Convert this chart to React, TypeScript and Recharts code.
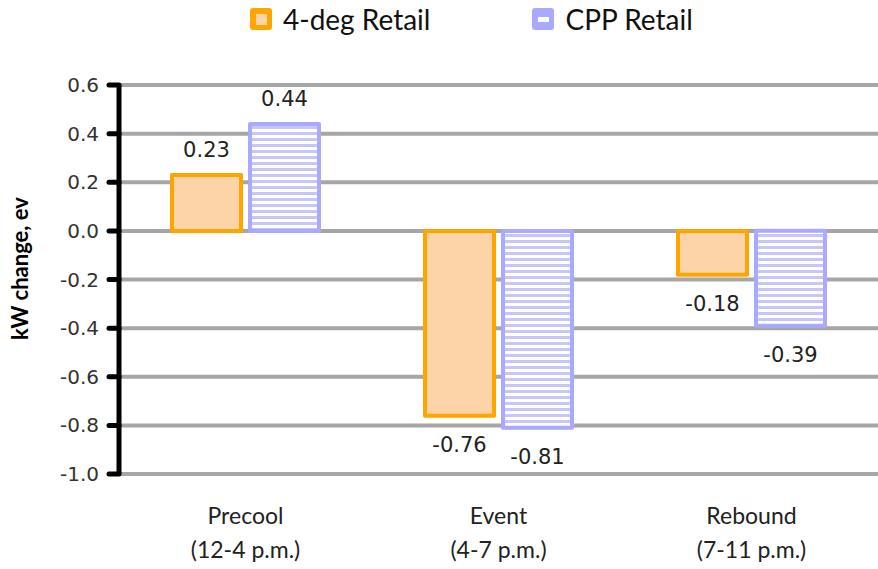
import React from 'react';
import { BarChart, Bar, XAxis, YAxis, CartesianGrid, Legend, LabelList } from 'recharts';

const periods = ['Precool', 'Event', 'Rebound'];
const periodHours = ['(12-4 p.m.)', '(4-7 p.m.)', '(7-11 p.m.)'];
const fourDeg = [0.23, -0.76, -0.18];
const cpp = [0.44, -0.81, -0.39];
const yTicks = [0.6, 0.4, 0.2, 0, -0.2, -0.4, -0.6, -0.8, -1.0];

const data = periods.map((p, i) => ({ period: p, hours: periodHours[i], fourDeg: fourDeg[i], cpp: cpp[i] }));

const ORANGE = '#ffa500';
const PEACH = '#fdd4a8';
const PURPLE = '#a9a9ff';

const CategoryTick = (props: any) => {
  const { x, y, payload, index } = props;
  return (
    <g>
      <text x={x} y={y + 50} textAnchor="middle" fontFamily="Lato" fontSize={23} fill="#222">{payload.value}</text>
      <text x={x} y={y + 84} textAnchor="middle" fontFamily="Lato" fontSize={23} fill="#222">{periodHours[index]}</text>
    </g>
  );
};

const ValueLabel = (props: any) => {
  const { x, y, width, height, value } = props;
  const top = Math.min(y, y + height);
  const bottom = Math.max(y, y + height);
  const ty = value < 0 ? bottom + 36 : top - 18;
  return (
    <text x={x + width / 2} y={ty} textAnchor="middle" fontFamily="DejaVu Sans" fontSize={21} fill="#222">
      {value.toFixed(2)}
    </text>
  );
};

const AxisTitle = (props: any) => {
  const { viewBox } = props;
  const cx = viewBox.x + 28;
  const cy = viewBox.y + viewBox.height / 2 - 11;
  return (
    <text x={cx} y={cy} transform={`rotate(-90, ${cx}, ${cy})`} textAnchor="middle" fontFamily="Lato" fontWeight={700} fontSize={22} fill="#000">
      kW change, ev
    </text>
  );
};

const LegendContent = () => (
  <div style={{ display: 'flex', justifyContent: 'flex-start', paddingLeft: 250, gap: 102, fontFamily: 'Lato', fontSize: 28, color: '#111' }}>
    <div style={{ display: 'flex', alignItems: 'center' }}>
      <span style={{ width: 22, height: 22, background: ORANGE, display: 'inline-flex', alignItems: 'center', justifyContent: 'center', marginRight: 11, borderRadius: 3 }}>
        <span style={{ width: 11, height: 11, background: PEACH }} />
      </span>
      4-deg Retail
    </div>
    <div style={{ display: 'flex', alignItems: 'center' }}>
      <span style={{ width: 22, height: 22, background: PURPLE, display: 'inline-flex', alignItems: 'center', justifyContent: 'center', marginRight: 11, borderRadius: 3 }}>
        <span style={{ width: 11, height: 5, background: '#fff' }} />
      </span>
      CPP Retail
    </div>
  </div>
);

export default function App() {
  return (
    <div style={{ position: 'absolute', left: 0, top: 0, width: 878, height: 569, background: '#fff' }}>
      <BarChart
        width={878}
        height={569}
        data={data}
        margin={{ top: 85, right: 0, bottom: 15, left: 0 }}
        barSize={69}
        barGap={9}
      >
        <defs>
          <pattern id="stripes" patternUnits="userSpaceOnUse" width={8} height={6}>
            <rect width={8} height={6} fill="#ffffff" />
            <rect width={8} height={3} fill="#c6c6fb" />
          </pattern>
        </defs>
        <CartesianGrid vertical={false} stroke="#a6a6a6" strokeWidth={4} />
        <XAxis
          dataKey="period"
          axisLine={false}
          tickLine={false}
          tickSize={0}
          tickMargin={0}
          height={80}
          interval={0}
          tick={<CategoryTick />}
        />
        <YAxis
          domain={[-1, 0.6]}
          ticks={yTicks}
          width={119}
          interval={0}
          tickSize={10}
          tickMargin={10}
          axisLine={{ stroke: '#000', strokeWidth: 5 }}
          tickLine={{ stroke: '#000', strokeWidth: 5, strokeLinecap: 'round' }}
          tickFormatter={(v: number) => v.toFixed(1)}
          tick={{ fontFamily: 'DejaVu Sans', fontSize: 20, fill: '#333' }}
          label={<AxisTitle />}
        />
        <Legend
          layout="horizontal"
          verticalAlign="middle"
          content={<LegendContent />}
          wrapperStyle={{ top: 2, left: 0, width: 878 }}
        />
        <Bar dataKey="fourDeg" name="4-deg Retail" fill={PEACH} stroke={ORANGE} strokeWidth={4} strokeLinejoin="round" isAnimationActive={false}>
          <LabelList dataKey="fourDeg" content={<ValueLabel />} />
        </Bar>
        <Bar dataKey="cpp" name="CPP Retail" fill="url(#stripes)" stroke={PURPLE} strokeWidth={4} strokeLinejoin="round" isAnimationActive={false}>
          <LabelList dataKey="cpp" content={<ValueLabel />} />
        </Bar>
      </BarChart>
    </div>
  );
}
